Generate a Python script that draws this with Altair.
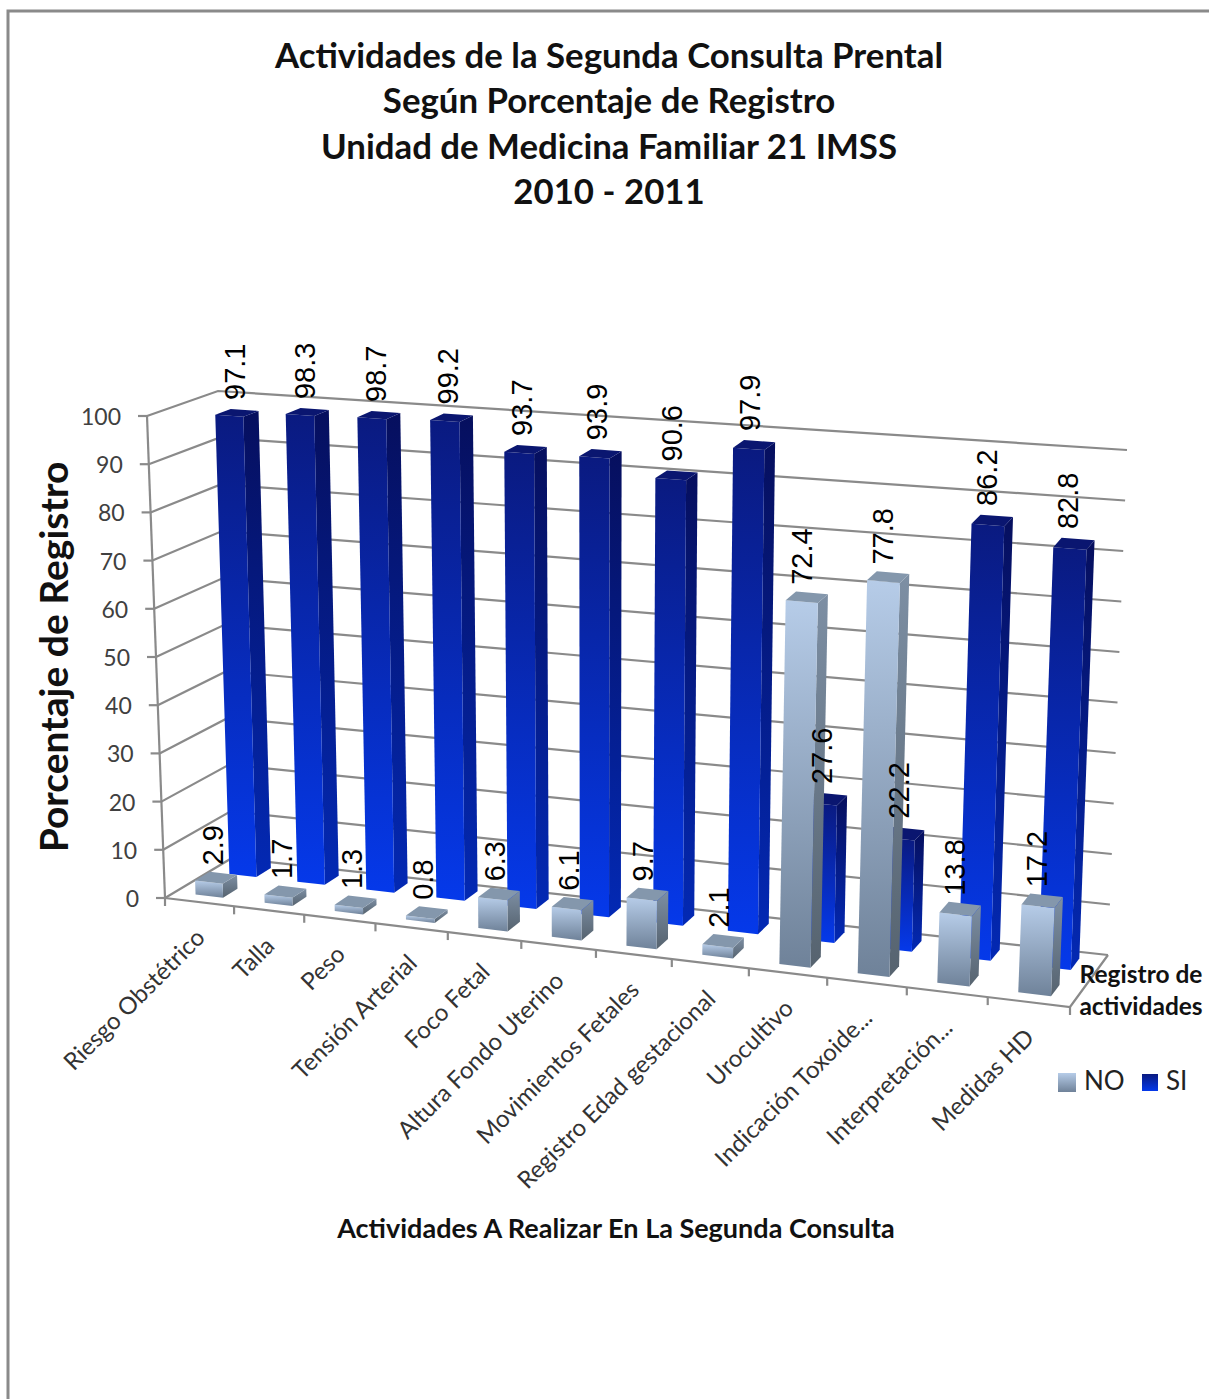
import altair as alt
import pandas as pd

# Chart values
categories = ["Riesgo Obstétrico", "Talla", "Peso", "Tensión Arterial", "Foco Fetal",
              "Altura Fondo Uterino", "Movimientos Fetales", "Registro Edad gestacional",
              "Urocultivo", "Indicación Toxoide...", "Interpretación...", "Medidas HD"]
no_values = [2.9, 1.7, 1.3, 0.8, 6.3, 6.1, 9.7, 2.1, 72.4, 77.8, 13.8, 17.2]
si_values = [97.1, 98.3, 98.7, 99.2, 93.7, 93.9, 90.6, 97.9, 27.6, 22.2, 86.2, 82.8]
value_ticks = [0, 10, 20, 30, 40, 50, 60, 70, 80, 90, 100]
title_lines = ["Actividades de la Segunda Consulta Prental", "Según Porcentaje de Registro",
               "Unidad de Medicina Familiar 21 IMSS", "2010 - 2011"]

W, H = 1209, 1399
N = len(categories)

# Corners of the 3D box on the page: (category end, depth, value end)
BOX = {
    (0, 0, 0): (165, 898), (0, 1, 0): (232, 858), (1, 0, 0): (1070, 1007), (1, 1, 0): (1108, 955),
    (0, 0, 1): (147, 416), (0, 1, 1): (218, 391), (1, 0, 1): (1092, 492), (1, 1, 1): (1127, 450),
}
PERSPECTIVE = 1.1


def project(u, v, w):
    """Map category position u (0..N), depth v (0..1) and value w (0..100) to the page."""
    s = u / N
    t = s / (PERSPECTIVE - (PERSPECTIVE - 1) * s)
    h = w / 100
    px = py = 0.0
    for (a, b, c), (x, y) in BOX.items():
        f = (t if a else 1 - t) * (v if b else 1 - v) * (h if c else 1 - h)
        px += f * x
        py += f * y
    return px, py


def rows_from(polys):
    rows = []
    for pid, pts in enumerate(polys):
        for k, (x, y) in enumerate(pts):
            rows.append({"pid": pid, "k": k, "x": x, "y": y})
    return pd.DataFrame(rows)


X = alt.X("x:Q", scale=alt.Scale(domain=[0, W], nice=False, zero=False), axis=None)
Y = alt.Y("y:Q", scale=alt.Scale(domain=[H, 0], nice=False, zero=False), axis=None)


def grad(top, bottom):
    return alt.LinearGradient(gradient="linear", x1=0, x2=0, y1=0, y2=1,
                              stops=[alt.GradientStop(color=top, offset=0),
                                     alt.GradientStop(color=bottom, offset=1)])


def polygons(polys, fill):
    return alt.Chart(rows_from(polys)).mark_line(fill=fill, stroke="transparent", strokeWidth=0).encode(
        x=X, y=Y, detail="pid:N", order="k:Q")


def strokes(polys, color="#8a8a8a", width=2.2):
    return alt.Chart(rows_from(polys)).mark_line(color=color, strokeWidth=width).encode(
        x=X, y=Y, detail="pid:N", order="k:Q")


def texts(rows, **mark):
    return alt.Chart(pd.DataFrame(rows)).mark_text(**mark).encode(x=X, y=Y, text="label:N")


BAR_U = (0.30, 0.70)
NO_V = (0.15, 0.37)
SI_V = (0.66, 0.88)


def faces(values, depth):
    front, side, cap = [], [], []
    v0, v1 = depth
    for i, val in enumerate(values):
        u0, u1 = i + BAR_U[0], i + BAR_U[1]
        front.append([project(u0, v0, 0), project(u1, v0, 0), project(u1, v0, val), project(u0, v0, val)])
        side.append([project(u1, v0, 0), project(u1, v1, 0), project(u1, v1, val), project(u1, v0, val)])
        cap.append([project(u0, v0, val), project(u1, v0, val), project(u1, v1, val), project(u0, v1, val)])
    return front, side, cap


def value_labels(values, depth, gap):
    rows = []
    for i, val in enumerate(values):
        x, y = project(i + 0.5, depth[1], val)
        rows.append({"x": x - 9, "y": y - gap, "label": f"{val:.1f}"})
    return rows


# Walls, floor and ticks
grid = []
for tick in value_ticks:
    grid.append([project(0, 0, tick), project(0, 1, tick), project(N, 1, tick)])
floor = [[project(0, 0, 0), project(N, 0, 0), project(N, 1, 0)],
         [project(0, 0, 0), project(0, 0, 100)]]
ticks = []
for tick in value_ticks:
    x, y = project(0, 0, tick)
    ticks.append([(x - 9, y), (x, y)])
for i in range(N + 1):
    x, y = project(i, 0, 0)
    ticks.append([(x, y), (x, y + 8)])

y_labels = [{"x": project(0, 0, t)[0] - 26, "y": project(0, 0, t)[1] + 2, "label": str(t)} for t in value_ticks]
cat_labels = []
for i, name in enumerate(categories):
    x, y = project(i + 0.5, 0, 0)
    cat_labels.append({"x": x + 2, "y": y + 32, "label": name})

si_front, si_side, si_cap = faces(si_values, SI_V)
no_front, no_side, no_cap = faces(no_values, NO_V)

# Page furniture
frame = [[(8, H + 5), (8, 11), (W + 5, 11)]]
title_rows = [{"x": 609, "y": y, "label": t} for y, t in zip([58, 103, 149, 194], title_lines)]
legend_swatches = pd.DataFrame({"x": [1058], "x2": [1076], "y": [1073], "y2": [1092]})
legend_swatch_si = pd.DataFrame({"x": [1142], "x2": [1158], "y": [1074], "y2": [1091]})


def swatch(df, fill):
    return alt.Chart(df).mark_rect(fill=fill).encode(x=X, x2="x2:Q", y=Y, y2="y2:Q")


SANS = "Lato"
layers = [
    strokes(frame, "#8a8a8a", 3),
    strokes(grid),
    strokes(floor),
    strokes(ticks),
    polygons(si_side, grad("#060f5e", "#0329b4")),
    polygons(si_front, grad("#0a1a80", "#0539ea")),
    polygons(si_cap, "#0a1670"),
    polygons(no_side, grad("#7d8fa4", "#56636f")),
    polygons(no_front, grad("#b6cce8", "#6f8299")),
    polygons(no_cap, "#8497ac"),
    texts(value_labels(si_values, SI_V, 10) + value_labels(no_values, NO_V, 8),
          font="Liberation Sans", fontSize=29, angle=270, align="left", baseline="middle", color="#000000"),
    texts(y_labels, font=SANS, fontSize=23, align="right", baseline="middle", color="#404040"),
    texts(cat_labels, font=SANS, fontSize=24, angle=315, align="right", baseline="middle", color="#333333"),
    texts(title_rows, font=SANS, fontSize=34.8, fontWeight="bold", align="center", baseline="middle", color="#111111"),
    texts([{"x": 56, "y": 657, "label": "Porcentaje de Registro"}], font=SANS, fontSize=39, fontWeight="bold",
          angle=270, align="center", baseline="middle", color="#111111"),
    texts([{"x": 616, "y": 1230, "label": "Actividades A Realizar En La Segunda Consulta"}], font=SANS,
          fontSize=27, fontWeight="bold", align="center", baseline="middle", color="#111111"),
    texts([{"x": 1141, "y": 976, "label": "Registro de"}, {"x": 1141, "y": 1008, "label": "actividades"}],
          font=SANS, fontSize=24.5, fontWeight="bold", align="center", baseline="middle", color="#111111"),
    swatch(legend_swatches, grad("#b6cce8", "#6f8299")),
    swatch(legend_swatch_si, grad("#0a1a80", "#0539ea")),
    texts([{"x": 1084, "y": 1082, "label": "NO"}, {"x": 1166, "y": 1082, "label": "SI"}], font=SANS, fontSize=26,
          align="left", baseline="middle", color="#222222"),
]

chart = alt.layer(*layers).properties(
    width=W, height=H, padding=0, autosize=alt.AutoSizeParams(type="none"), background="white"
).configure_view(stroke=None)

chart.save("out.html", embed_options={"renderer": "svg", "actions": False})
